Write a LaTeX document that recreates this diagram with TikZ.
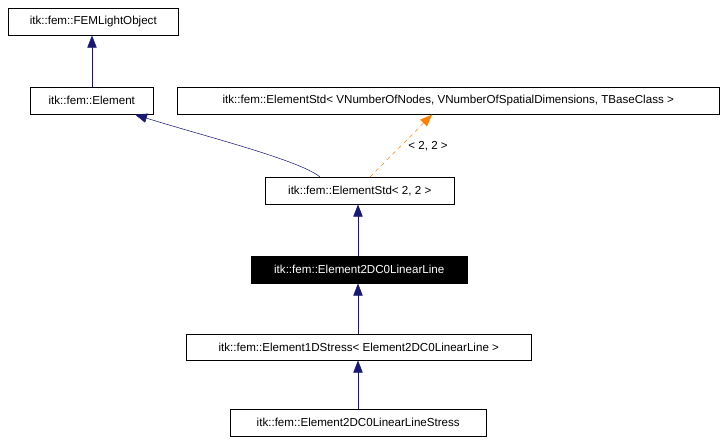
\documentclass[tikz,border=0pt]{standalone}
\usepackage{fontspec}
\setmainfont{Liberation Sans}
\usetikzlibrary{arrows.meta}
\begin{document}
\begin{tikzpicture}[x=0.75pt,y=-0.75pt,
 box/.style={draw=black,fill=white,inner sep=0pt,font=\fontsize{8.7}{10}\selectfont},
 edge/.style={draw=blue!40!black!90,-{Triangle[open,fill=blue!40!black!90,length=9pt,width=7pt]}},
 tmpl/.style={draw=orange,dashed,-{Triangle[fill=orange,length=9pt,width=7pt]}}]
\useasboundingbox (0,0) rectangle (726,442);
\def\bx#1#2#3#4#5#6{\node[box,minimum width=#4*0.75pt-#2*0.75pt,minimum height=#5*0.75pt-#3*0.75pt,anchor=north west] (#1) at (#2,#3) {#6};}
\bx{fem}{8}{8}{178}{35}{itk::fem::FEMLightObject}
\bx{el}{30}{87}{153}{114}{itk::fem::Element}
\bx{estd}{177}{87}{719}{114}{itk::fem::ElementStd< VNumberOfNodes, VNumberOfSpatialDimensions, TBaseClass >}
\bx{e22}{265}{177}{454}{204}{itk::fem::ElementStd< 2, 2 >}
\node[box,fill=black,text=white,minimum width=162pt,minimum height=20.25pt,anchor=north west] (ll) at (251,256) {itk::fem::Element2DC0LinearLine};
\bx{s1}{186}{334}{531}{360}{itk::fem::Element1DStress< Element2DC0LinearLine >}
\bx{st}{230}{409}{486}{436}{itk::fem::Element2DC0LinearLineStress}
\draw[edge] (el.north -| 92,0) -- (fem.south -| 92,0);
\draw[edge] (e22.north -| 320,0) .. controls (300,160) and (200,135) .. (el.south -| 135,0);
\draw[tmpl] (e22.north -| 370,0) -- node[right=2pt,pos=0.5,font=\fontsize{8.7}{10}\selectfont,text=black]{< 2, 2 >} (estd.south -| 432,0);
\draw[edge] (ll.north -| 358,0) -- (e22.south -| 358,0);
\draw[edge] (s1.north -| 358,0) -- (ll.south -| 358,0);
\draw[edge] (st.north -| 358,0) -- (s1.south -| 358,0);
\end{tikzpicture}
\end{document}
